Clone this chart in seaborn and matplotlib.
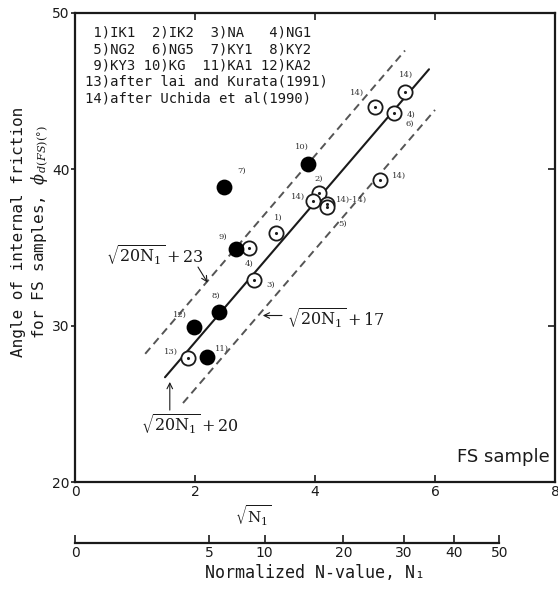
import numpy as np
import pandas as pd
import matplotlib
matplotlib.use("Agg")
import matplotlib.pyplot as plt
import seaborn as sns

# ---------------- data (x = sqrt(N1), y = phi_d(FS) in degrees) ----------------
filled_x = [2.48, 3.88, 2.68, 2.40, 1.98, 2.20]
filled_y = [38.9, 40.35, 34.9, 30.9, 29.9, 28.0]
filled_lab = ["7)", "10)", "9)", "8)", "12)", "11)"]

open_x = [1.88, 2.98, 2.90, 3.35, 4.07, 3.97, 4.20, 4.20, 5.00, 5.50, 5.32, 5.08]
open_y = [27.9, 32.9, 35.0, 35.9, 38.5, 38.0, 37.8, 37.6, 44.0, 44.95, 43.6, 39.3]
open_lab = ["13)", "3)", "4)", "1)", "2)", "14)", "", "", "14)", "14)", "4)", "14)"]

# reference lines phi = sqrt(20 N1) + c, endpoints
solid_x = [1.50, 5.90]
solid_y = [26.7, 46.4]
upper_x = [1.17, 5.50]
upper_y = [28.2, 47.6]
lower_x = [1.80, 6.00]
lower_y = [25.05, 43.8]

x_ticks = [0, 2, 4, 6, 8]
y_ticks = [20, 30, 40, 50]
n_ticks = [0, 5, 10, 20, 30, 40, 50]

legend_lines = [
    " 1)IK1  2)IK2  3)NA   4)NG1",
    " 5)NG2  6)NG5  7)KY1  8)KY2",
    " 9)KY3 10)KG  11)KA1 12)KA2",
    "13)after lai and Kurata(1991)",
    "14)after Uchida et al(1990)",
]

# ---------------- figure ----------------
sns.set_style("white")
plt.rcParams["font.family"] = ["DejaVu Sans"]
plt.rcParams["mathtext.fontset"] = "dejavuserif"

W, H = 558, 593
fig = plt.figure(figsize=(W / 100, H / 100), dpi=100)

def fx(px):
    return px / W

def fy(py):
    return 1 - py / H

ax = fig.add_axes([fx(75), fy(482), fx(555) - fx(75), fy(13) - fy(482)])
ax.set_xlim(0, 8)
ax.set_ylim(20, 50)

ink = "#1a1a1a"
dash_c = "#555555"

sns.lineplot(x=solid_x, y=solid_y, ax=ax, color=ink, lw=1.5)
sns.lineplot(x=upper_x, y=upper_y, ax=ax, color=dash_c, lw=1.4, linestyle=(0, (4, 2.6)))
sns.lineplot(x=lower_x, y=lower_y, ax=ax, color=dash_c, lw=1.4, linestyle=(0, (4, 2.6)))

df_f = pd.DataFrame({"x": filled_x, "y": filled_y})
df_o = pd.DataFrame({"x": open_x, "y": open_y})
sns.scatterplot(data=df_o, x="x", y="y", ax=ax, s=105, facecolor="white",
                edgecolor=ink, linewidth=1.3, zorder=4)
sns.scatterplot(data=df_o, x="x", y="y", ax=ax, s=5, color=ink, linewidth=0, zorder=5)
sns.scatterplot(data=df_f, x="x", y="y", ax=ax, s=130, color="black",
                edgecolor="black", linewidth=0, zorder=5)

# point labels (offsets in points)
lab_style = dict(fontsize=6, family="DejaVu Serif", color="#333333",
                 textcoords="offset points", ha="center", va="center")
f_off = [(13, 11), (-4, 12), (-9, 9), (-2, 11), (-10, 9), (11, 6)]
for xx, yy, t, o in zip(filled_x, filled_y, filled_lab, f_off):
    ax.annotate(t, (xx, yy), xytext=o, **lab_style)
o_off = [(-12, 5), (12, -3), (0, -12), (2, 11), (0, 10), (-11, 3), (0, 0), (0, 0),
         (-13, 10), (1, 12), (12, -1), (14, 3)]
for xx, yy, t, o in zip(open_x, open_y, open_lab, o_off):
    if t:
        ax.annotate(t, (xx, yy), xytext=o, **lab_style)
ax.annotate("14)-14)", (4.2, 37.7), xytext=(18, 4), **lab_style)
ax.annotate("5)", (4.2, 37.7), xytext=(11, -13), **lab_style)
ax.annotate("6)", (5.32, 43.6), xytext=(11, -8), **lab_style)

# formula annotations
ftxt = dict(fontsize=11.5, color=ink)
arr = dict(arrowstyle="->", color=ink, lw=0.8, shrinkA=0, shrinkB=0)
ax.text(1.33, 34.5, r"$\sqrt{20\mathrm{N}_1}+23$", ha="center", va="center", **ftxt)
ax.annotate("", xy=(2.21, 32.75), xytext=(2.05, 33.75), arrowprops=arr)
ax.text(3.53, 30.5, r"$\sqrt{20\mathrm{N}_1}+17$", ha="left", va="center", **ftxt)
ax.annotate("", xy=(3.13, 30.65), xytext=(3.45, 30.65), arrowprops=arr)
ax.text(1.92, 23.7, r"$\sqrt{20\mathrm{N}_1}+20$", ha="center", va="center", **ftxt)
ax.annotate("", xy=(1.58, 26.4), xytext=(1.58, 24.6), arrowprops=arr)

# legend block
for i, line in enumerate(legend_lines):
    fig.text(fx(85), fy(33 + i * 16.25), line, family="DejaVu Sans Mono",
             fontsize=10, color=ink, ha="left", va="center")

ax.text(0.99, 0.035, "FS sample", transform=ax.transAxes, ha="right", va="bottom",
        fontsize=13, color=ink)

# axes styling
for sp in ax.spines.values():
    sp.set_visible(True)
    sp.set_color(ink)
    sp.set_linewidth(1.6)
ax.set_xticks(x_ticks)
ax.set_yticks(y_ticks)
ax.set_xticklabels([str(v) for v in x_ticks])
ax.set_yticklabels([str(v) for v in y_ticks])
ax.tick_params(axis="x", direction="in", length=5, width=1.2, top=True, bottom=True,
               labelsize=10, pad=2, colors=ink)
ax.tick_params(axis="y", direction="out", length=3, width=1.2, left=True,
               labelsize=10, pad=1, colors=ink)
ax.tick_params(axis="y", which="both", right=True)
for t in ax.yaxis.get_ticklines()[1::2]:
    t.set_marker(0)
    t.set_markersize(5)
ax.set_xlabel("")
ax.set_ylabel("")

fig.text(fx(253), fy(516), r"$\sqrt{\mathrm{N}_1}$", fontsize=11, ha="center",
         va="center", color=ink)

# secondary axis (N1 on sqrt scale)
ax2 = fig.add_axes([fx(75), fy(543), fx(555) - fx(75), 0.001])
ax2.set_xlim(0, 8)
ax2.set_ylim(0, 1)
ax2.patch.set_visible(False)
for k in ["top", "left", "right"]:
    ax2.spines[k].set_visible(False)
ax2.spines["bottom"].set_color(ink)
ax2.spines["bottom"].set_linewidth(1.6)
ax2.spines["bottom"].set_bounds(0, np.sqrt(n_ticks[-1]))
ax2.set_xticks(np.sqrt(n_ticks))
ax2.set_xticklabels([str(v) for v in n_ticks])
ax2.set_yticks([])
ax2.tick_params(axis="x", direction="in", length=6, width=1.2, labelsize=10,
                pad=2, colors=ink, bottom=True, top=False)
ax2.set_xlabel("Normalized N-value, N₁", family="DejaVu Sans Mono", fontsize=12,
               color=ink, labelpad=3)

# y label (two lines)
fig.text(fx(19), fy(232), "Angle of internal friction", rotation=90,
         family="DejaVu Sans Mono", fontsize=11.5, ha="center", va="center", color=ink)
fig.text(fx(40), fy(232), r"for FS samples, $\phi_{\,d(FS)(°)}$", rotation=90,
         family="DejaVu Sans Mono", fontsize=11.5, ha="center", va="center", color=ink)

fig.savefig("out.png", dpi=100)
